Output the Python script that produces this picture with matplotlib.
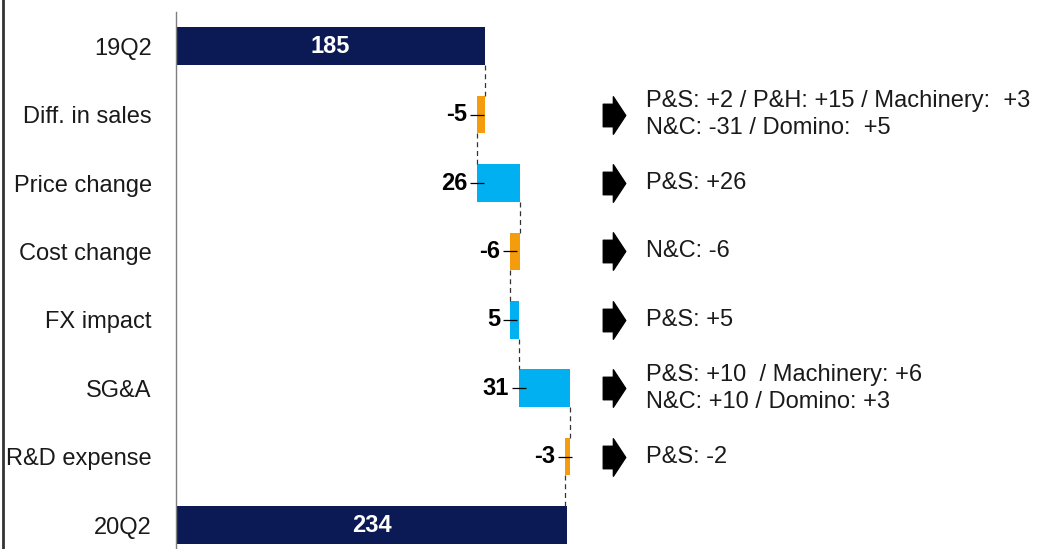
import numpy as np
import matplotlib.pyplot as plt
from matplotlib.path import Path
from matplotlib.lines import Line2D

# data
categories = ["19Q2", "Diff. in sales", "Price change", "Cost change",
              "FX impact", "SG&A", "R&D expense", "20Q2"]
start_value = 185
end_value = 234
deltas = [-5, 26, -6, 5, 31, -3]
notes = ["P&S: +2 / P&H: +15 / Machinery:  +3\nN&C: -31 / Domino:  +5",
         "P&S: +26",
         "N&C: -6",
         "P&S: +5",
         "P&S: +10  / Machinery: +6\nN&C: +10 / Domino: +3",
         "P&S: -2"]

plt.rcParams['font.family'] = ['Liberation Sans', 'DejaVu Sans']

navy = '#0B1A54'
orange = '#F59C0C'
blue = '#00B0F0'
h = 0.55

fig = plt.figure(figsize=(10.4, 5.49), dpi=100)
ax = fig.add_axes([176 / 1040, 0, 1 - 176 / 1040, 1 - 12 / 549])

rows = np.arange(len(categories))

# start and end totals
ax.barh(rows[0], start_value, height=h, color=navy)
ax.barh(rows[-1], end_value, height=h, color=navy)
ax.text(start_value / 2, rows[0], str(start_value), color='white',
        fontsize=17, fontweight='bold', ha='center', va='center')
ax.text(end_value / 2, rows[-1], str(end_value), color='white',
        fontsize=17, fontweight='bold', ha='center', va='center')

# arrow marker for the notes
arrow = Path([(-0.3, 0.3), (-0.03, 0.3), (-0.03, 0.5), (0.3, 0.0),
              (-0.03, -0.5), (-0.03, -0.3), (-0.3, -0.3), (-0.3, 0.3)],
             [Path.MOVETO] + [Path.LINETO] * 6 + [Path.CLOSEPOLY])

running = start_value
levels = [running]
for i, d in enumerate(deltas):
    r = rows[i + 1]
    new = running + d
    left = min(running, new)
    ax.barh(r, abs(d), left=left, height=h, color=blue if d > 0 else orange)
    ax.plot(left, r, marker='_', markersize=10, mew=0.9, color='black')
    ax.annotate(str(d), xy=(left, r), xytext=(-7, 0), textcoords='offset points',
                ha='right', va='center', fontsize=17, fontweight='bold')
    ax.plot(262, r, marker=arrow, markersize=27, color='black')
    ax.text(281, r, notes[i], ha='left', va='center', fontsize=17,
            color='#1a1a1a', linespacing=1.3)
    running = new
    levels.append(running)

# dashed connectors between bars
for i, lv in enumerate(levels):
    ax.plot([lv, lv], [rows[i] + h / 2, rows[i + 1] - h / 2],
            color='#333333', lw=0.9, linestyle=(0, (4, 3)))

ax.set_xlim(0, 517)
ax.set_ylim(7.35, -0.5)
ax.set_yticks(rows)
ax.set_yticklabels(categories, fontsize=17, color='#1a1a1a')
ax.tick_params(left=False, bottom=False, labelbottom=False, pad=14)
for s in ['top', 'right', 'bottom']:
    ax.spines[s].set_visible(False)
ax.spines['left'].set_color('#7f7f7f')
ax.spines['left'].set_linewidth(1.0)

fig.add_artist(Line2D([0.0025, 0.0025], [0, 1], transform=fig.transFigure,
                      color='#333333', lw=2))

fig.savefig('out.png', dpi=100)
